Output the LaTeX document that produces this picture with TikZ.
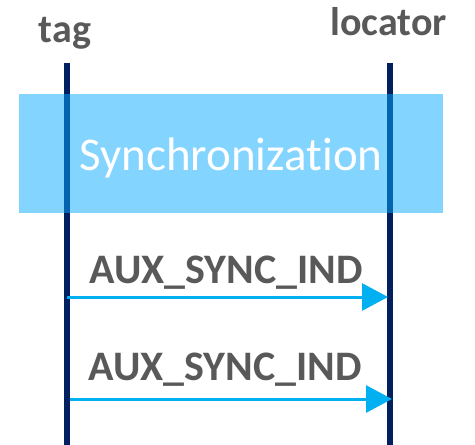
\documentclass[tikz,border=0pt]{standalone}
\usepackage{fontspec}
\setmainfont[Ligatures={NoCommon}]{Carlito}
\usetikzlibrary{arrows.meta}
\definecolor{lifeline}{HTML}{002060}
\definecolor{msgblue}{HTML}{00B0F0}
\definecolor{syncblue}{RGB}{8,169,253}
\definecolor{labelgrey}{HTML}{595959}
\tikzset{
  actor/.style={font=\fontsize{40}{40}\selectfont\bfseries, text=labelgrey, inner sep=0pt, anchor=base},
  lifelinestyle/.style={draw=lifeline, line width=6pt},
  syncbox/.style={fill=syncblue, fill opacity=0.5, draw=none},
  msg/.style={draw=msgblue, line width=3pt, -{Triangle[length=26pt,width=27pt]}},
  msglabel/.style={font=\fontsize{42}{42}\selectfont\bfseries, text=labelgrey, inner sep=0pt, anchor=base},
}
\begin{document}
\begin{tikzpicture}[x=1pt,y=-1pt]
  \useasboundingbox (0,0) rectangle (475,445);
  % participants
  \node[actor] (tag) at (65,42) {tag};
  \node[actor] (locator) at (388.5,35) {locator};
  % lifelines
  \coordinate (tagtop) at (67,63);
  \coordinate (tagbot) at (67,445);
  \coordinate (loctop) at (389.5,63);
  \coordinate (locbot) at (389.5,445);
  \draw[lifelinestyle] (tagtop) -- (tagbot);
  \draw[lifelinestyle] (loctop) -- (locbot);
  % synchronization phase
  \path[syncbox] (19,94) rectangle (443,213);
  \node[font=\fontsize{47}{47}\selectfont, text=white, inner sep=0pt, anchor=base] (sync) at (231,170) {Synchronization};
  % messages
  \coordinate (m1s) at (67,297);
  \coordinate (m1e) at (388,297);
  \coordinate (m2s) at (70,399);
  \coordinate (m2e) at (392,399);
  \draw[msg] (m1s) -- (m1e);
  \draw[msg] (m2s) -- (m2e);
  \node[msglabel] (l1) at (226,283) {AUX\_SYNC\_IND};
  \node[msglabel] (l2) at (225,380) {AUX\_SYNC\_IND};
\end{tikzpicture}
\end{document}
